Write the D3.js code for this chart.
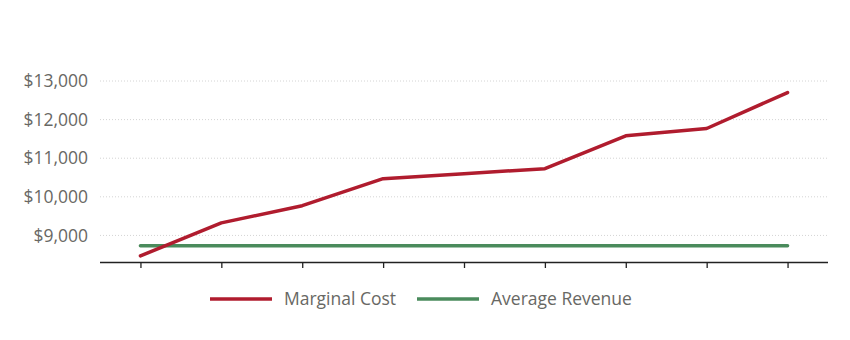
<!DOCTYPE html>
<html>
<head>
<meta charset="utf-8">
<script src="https://cdn.jsdelivr.net/npm/d3@7"></script>
<style>
  html, body { margin: 0; padding: 0; background: #fff; }
  svg { display: block; }
  text { font-family: "Open Sans", "Noto Sans", sans-serif; }
</style>
</head>
<body>
<svg id="chart" width="850" height="340"></svg>
<script>
// Output quantity steps (unlabelled on the axis)
const quantities = [1, 2, 3, 4, 5, 6, 7, 8, 9];
// Cost and revenue per unit
const marginalCost = [8470, 9325, 9770, 10470, 10600, 10730, 11580, 11770, 12700];
const averageRevenue = [8730, 8730, 8730, 8730, 8730, 8730, 8730, 8730, 8730];
const yTicks = [9000, 10000, 11000, 12000, 13000];
const seriesNames = ["Marginal Cost", "Average Revenue"];
const seriesColors = ["#b01c2e", "#4a8b5c"];

const svg = d3.select("#chart");
const left = 100, right = 828, axisY = 262;
const labelFont = "17.5px";

const x = d3.scalePoint().domain(quantities).range([left, right]).padding(0.5);
const y = d3.scaleLinear().domain([8312, 13000]).range([axisY, 81]);

// dotted horizontal grid
svg.append("g")
  .selectAll("line")
  .data(yTicks)
  .join("line")
  .attr("x1", left).attr("x2", right)
  .attr("y1", d => y(d)).attr("y2", d => y(d))
  .attr("stroke", "#d4d4d4")
  .attr("stroke-width", 1)
  .attr("stroke-dasharray", "1,2");

// y axis labels (no axis line)
const yAxis = d3.axisLeft(y).tickValues(yTicks).tickSize(0).tickPadding(0)
  .tickFormat(d => "$" + d3.format(",")(d));
const gy = svg.append("g").attr("transform", `translate(${left - 12},0)`).call(yAxis);
gy.select(".domain").remove();
gy.selectAll("text")
  .attr("fill", "#686864")
  .style("font-size", labelFont)
  .style("font-family", "'Open Sans', 'Noto Sans', sans-serif");

// x axis
const xAxis = d3.axisBottom(x).tickSize(6).tickSizeOuter(0).tickFormat(() => "");
const gx = svg.append("g").attr("transform", `translate(0,${axisY})`).call(xAxis);
gx.select(".domain").attr("stroke", "#222").attr("stroke-width", 1.5)
  .attr("d", `M${left},0.5H${right}`);
gx.selectAll(".tick line").attr("stroke", "#222").attr("stroke-width", 1.3);

// series lines
const line = d3.line().x((d, i) => x(quantities[i])).y(d => y(d));
[averageRevenue, marginalCost].forEach((vals, k) => {
  const idx = k === 0 ? 1 : 0;
  svg.append("path")
    .datum(vals)
    .attr("d", line)
    .attr("fill", "none")
    .attr("stroke", seriesColors[idx])
    .attr("stroke-width", 3.5)
    .attr("stroke-linejoin", "round")
    .attr("stroke-linecap", "round");
});

// legend
const legendItems = [
  { name: seriesNames[0], color: seriesColors[0], x: 210 },
  { name: seriesNames[1], color: seriesColors[1], x: 417 }
];
const lg = svg.append("g").attr("transform", "translate(0,299)");
legendItems.forEach(it => {
  lg.append("line")
    .attr("x1", it.x).attr("x2", it.x + 62)
    .attr("y1", 0).attr("y2", 0)
    .attr("stroke", it.color).attr("stroke-width", 3.5);
  lg.append("text")
    .attr("x", it.x + 74).attr("y", 0)
    .attr("dy", "0.35em")
    .attr("fill", "#686864")
    .style("font-size", labelFont)
    .text(it.name);
});
</script>
</body>
</html>
